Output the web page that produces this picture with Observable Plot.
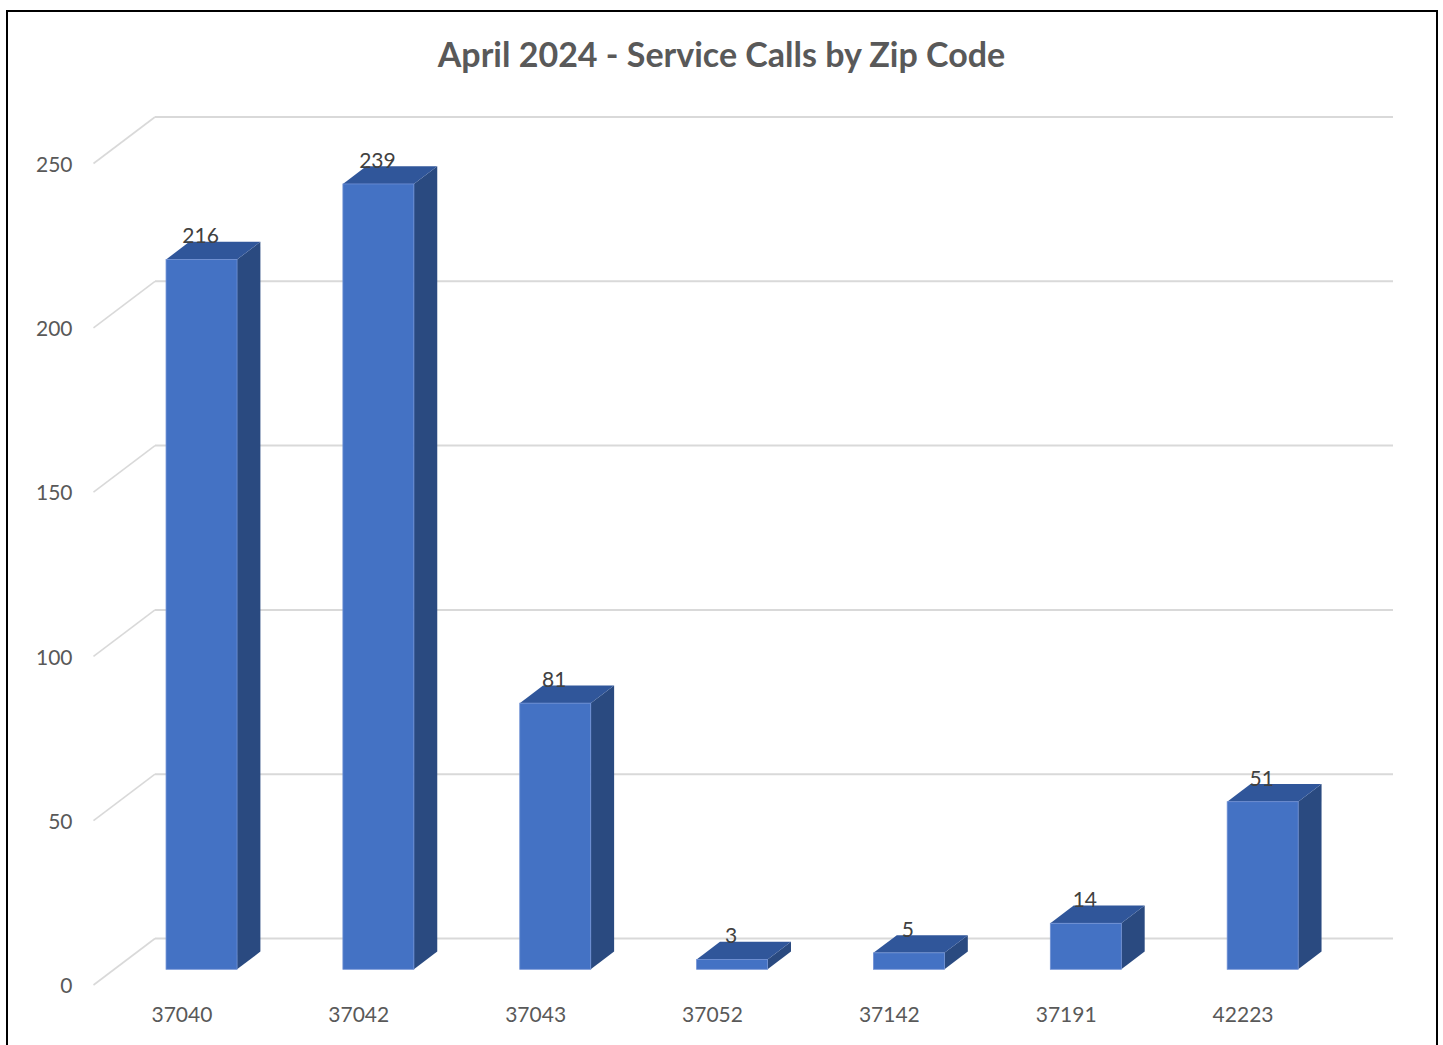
<!DOCTYPE html>
<html>
<head>
<meta charset="utf-8">
<script src="https://cdn.jsdelivr.net/npm/d3@7"></script>
<script src="https://cdn.jsdelivr.net/npm/@observablehq/plot@0.6"></script>
<style>
  html, body { margin: 0; padding: 0; background: #fff; overflow: hidden; width: 1443px; height: 1045px; }
  #frame { position: absolute; left: 6px; top: 10px; width: 1428px; height: 1100px; border: 2px solid #000; box-sizing: content-box; }
  #title { position: absolute; left: 0; top: 34px; width: 1443px; text-align: center; font-family: Lato, "Open Sans", sans-serif; font-weight: 700; font-size: 34px; line-height: 40px; color: #595959; }
  #chart { position: absolute; left: 0; top: 95px; }
</style>
</head>
<body>
<div id="frame"></div>
<div id="title">April 2024 - Service Calls by Zip Code</div>
<div id="chart"></div>
<script>
// ---- data ----
const zips = ["37040", "37042", "37043", "37052", "37142", "37191", "42223"];
const calls = [216, 239, 81, 3, 5, 14, 51];
const yTicks = [0, 50, 100, 150, 200, 250];

// ---- pseudo-3D projection parameters (in data units) ----
const kx = 61.5 / 176.86;   // x shift of back wall, in category units
const ky = 46.5 / 3.286;    // y shift of back wall, in value units
const zf = 0.327;           // depth of bar front face
const zb = 0.707;           // depth of bar back face
const hw = 0.2007;          // half bar width, category units

const colFront = "#4472c4", colTop = "#30569a", colSide = "#2a4a80";
const grid = "#d9d9d9";

const bars = zips.map((zip, i) => ({zip, i, value: calls[i]}));
const sideRows = bars.flatMap(d => [
  {zip: d.zip, x: d.i + hw + zf * kx, y1: zf * ky, y2: d.value + zf * ky},
  {zip: d.zip, x: d.i + hw + zb * kx, y1: zb * ky, y2: d.value + zb * ky}
]);
const topRows = bars.flatMap(d => [
  {zip: d.zip, y: d.value + zf * ky, x1: d.i - hw + zf * kx, x2: d.i + hw + zf * kx},
  {zip: d.zip, y: d.value + zb * ky, x1: d.i - hw + zb * kx, x2: d.i + hw + zb * kx}
]);
const x0 = -0.5, x1 = zips.length - 0.5;

const chart = Plot.plot({
  width: 1443,
  height: 950,
  marginLeft: 93,
  marginRight: 112,
  marginTop: 68,
  marginBottom: 60.5,
  x: {type: "linear", domain: [x0, x1], axis: null},
  y: {type: "linear", domain: [0, 250], axis: null},
  style: {fontFamily: "Lato, 'Open Sans', sans-serif", background: "transparent", overflow: "visible"},
  marks: [
    // side wall diagonals
    Plot.link(yTicks, {x1: () => x0, y1: d => d, x2: () => x0 + kx, y2: d => d + ky, stroke: grid, strokeWidth: 1.6}),
    // back wall gridlines
    Plot.link(yTicks, {x1: () => x0 + kx, x2: () => x1 + kx, y1: d => d + ky, y2: d => d + ky, stroke: grid, strokeWidth: 2}),
    // bar side faces
    Plot.areaY(sideRows, {x: "x", y1: "y1", y2: "y2", z: "zip", fill: colSide}),
    // bar top faces
    Plot.areaX(topRows, {y: "y", x1: "x1", x2: "x2", z: "zip", fill: colTop}),
    // bar front faces
    Plot.rect(bars, {
      x1: d => d.i - hw + zf * kx, x2: d => d.i + hw + zf * kx,
      y1: () => zf * ky, y2: d => d.value + zf * ky,
      fill: colFront, stroke: "#6f90d4", strokeWidth: 0.8
    }),
    // value labels
    Plot.text(bars, {
      x: d => d.i + zf * kx, y: d => d.value + zb * ky, text: d => String(d.value),
      lineAnchor: "bottom", dx: -1.5, dy: 1, fill: "#404040", fontSize: 21
    }),
    // y tick labels
    Plot.text(yTicks, {x: () => x0, y: d => d, text: d => String(d), textAnchor: "end", dx: -21, dy: 1.5, fill: "#595959", fontSize: 21}),
    // x category labels
    Plot.text(bars, {x: "i", y: () => 0, text: "zip", lineAnchor: "top", dy: 22, fill: "#595959", fontSize: 21})
  ]
});
document.getElementById("chart").appendChild(chart);
</script>
</body>
</html>
